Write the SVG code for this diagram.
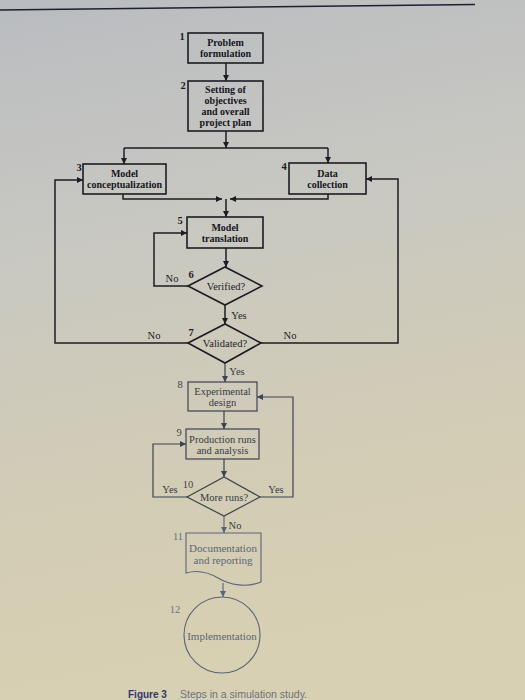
<svg xmlns="http://www.w3.org/2000/svg" width="525" height="700" viewBox="0 0 525 700">
<defs>
<linearGradient id="bg" x1="0" y1="0" x2="0.15" y2="1">
<stop offset="0" stop-color="#b9bcc0"/>
<stop offset="0.35" stop-color="#c8c8c2"/>
<stop offset="0.7" stop-color="#d2ccb6"/>
<stop offset="1" stop-color="#d8d0b2"/>
</linearGradient>
<marker id="ah" markerUnits="userSpaceOnUse" markerWidth="7" markerHeight="6" refX="6" refY="3" orient="auto">
<path d="M0,0 L6,3 L0,6 z" fill="#1c1c24"/>
</marker>
<marker id="ahl" markerUnits="userSpaceOnUse" markerWidth="7" markerHeight="6" refX="6" refY="3" orient="auto">
<path d="M0,0 L6,3 L0,6 z" fill="#3c4250"/>
</marker>
<marker id="ahf" markerUnits="userSpaceOnUse" markerWidth="7" markerHeight="6" refX="6" refY="3" orient="auto">
<path d="M0,0 L6,3 L0,6 z" fill="#5a6476"/>
</marker>
</defs>
<style>
.box{fill:none;stroke:#1c1c24;stroke-width:1.6}
.boxl{fill:none;stroke:#3c4250;stroke-width:1.2}
.boxf{fill:none;stroke:#5a6476;stroke-width:1.1}
.t{font-family:"Liberation Serif",serif;font-size:10px;font-weight:bold;fill:#15151c;text-anchor:middle}
.tr{font-family:"Liberation Serif",serif;font-size:10.5px;fill:#1c1c24;text-anchor:middle}
.tl{font-family:"Liberation Serif",serif;font-size:10.5px;fill:#343a46;text-anchor:middle}
.tf{font-family:"Liberation Serif",serif;font-size:11px;fill:#5c6678;text-anchor:middle}
.n{font-family:"Liberation Serif",serif;font-size:10.5px;font-weight:bold;fill:#1c1c24;text-anchor:middle}
.nl{font-family:"Liberation Serif",serif;font-size:10.5px;fill:#3c4250;text-anchor:middle}
.nf{font-family:"Liberation Serif",serif;font-size:10.5px;fill:#6a7284;text-anchor:middle}
.c{fill:none;stroke:#1c1c24;stroke-width:1.5;marker-end:url(#ah)}
.cl{fill:none;stroke:#3c4250;stroke-width:1.2;marker-end:url(#ahl)}
.cf{fill:none;stroke:#5a6476;stroke-width:1.1;marker-end:url(#ahf)}
</style>
<rect x="0" y="0" width="525" height="700" fill="url(#bg)"/>
<line x1="0" y1="10" x2="475" y2="4.5" stroke="#1e2030" stroke-width="1.6"/>

<g id="connectors">
<path class="c" d="M226,63 V81"/>
<path class="c" d="M226,131 V148"/>
<path fill="none" stroke="#1c1c24" stroke-width="1.5" d="M124,148 H328"/>
<path class="c" d="M124,148 V164"/>
<path class="c" d="M328,148 V163"/>
<path class="c" d="M123,194 V199 H222"/>
<path class="c" d="M328,194 V199 H230"/>
<path class="c" d="M226,199 V217"/>
<path class="c" d="M226,248 V267"/>
<path class="c" d="M188,286 H154 V233 H187"/>
<path class="c" d="M225,305 V324"/>
<path class="c" d="M188,343 H55 V180 H83"/>
<path class="c" d="M261,343 H398 V179 H366"/>
<path class="cl" d="M225,363 V382"/>
<path class="cl" d="M224,411 V429"/>
<path class="cl" d="M224,459 V477"/>
<path class="cl" d="M187,497 H153 V444 H186"/>
<path class="cl" d="M260,497 H293 V397 H257"/>
<path class="cf" d="M224,516 V533"/>
<path class="cf" d="M223,583 V597"/>
<text class="tr" x="172" y="282">No</text>
<text class="tr" x="239" y="319">Yes</text>
<text class="tr" x="154" y="339">No</text>
<text class="tr" x="290" y="339">No</text>
<text class="tl" x="237" y="375">Yes</text>
<text class="tl" x="170" y="493">Yes</text>
<text class="tl" x="276" y="493">Yes</text>
<text class="tl" x="235" y="529">No</text>
</g>

<g id="n1">
<rect class="box" x="188" y="33" width="75" height="30"/>
<text class="n" x="182" y="40">1</text>
<text class="t" x="225.5" y="46">Problem</text>
<text class="t" x="225.5" y="57">formulation</text>
</g>
<g id="n2">
<rect class="box" x="188" y="81" width="75" height="50"/>
<text class="n" x="183" y="89">2</text>
<text class="t" x="225.5" y="92.5">Setting of</text>
<text class="t" x="225.5" y="103.5">objectives</text>
<text class="t" x="225.5" y="114.5">and overall</text>
<text class="t" x="225.5" y="125.5">project plan</text>
</g>
<g id="n3">
<rect class="box" x="83" y="164" width="83" height="30"/>
<text class="n" x="79" y="171">3</text>
<text class="t" x="124.5" y="176.5">Model</text>
<text class="t" x="124.5" y="187.5">conceptualization</text>
</g>
<g id="n4">
<rect class="box" x="289" y="163" width="77" height="31"/>
<text class="n" x="284" y="170">4</text>
<text class="t" x="327.5" y="176.5">Data</text>
<text class="t" x="327.5" y="187.5">collection</text>
</g>
<g id="n5">
<rect class="box" x="187" y="217" width="76" height="31"/>
<text class="n" x="180" y="224">5</text>
<text class="t" x="225" y="230.5">Model</text>
<text class="t" x="225" y="241.5">translation</text>
</g>
<g id="n6">
<polygon class="box" points="188,286 225,267 262,286 225,305"/>
<text class="n" x="191" y="278">6</text>
<text class="tr" x="226" y="289.5">Verified?</text>
</g>
<g id="n7">
<polygon class="box" points="188,343 225,324 261,343 225,363"/>
<text class="n" x="191" y="336">7</text>
<text class="tr" x="225" y="346.5">Validated?</text>
</g>
<g id="n8">
<rect class="boxl" x="188" y="382" width="69" height="29"/>
<text class="nl" x="180" y="388">8</text>
<text class="tl" x="222.5" y="394.5">Experimental</text>
<text class="tl" x="222.5" y="405.5">design</text>
</g>
<g id="n9">
<rect class="boxl" x="186" y="429" width="73" height="30"/>
<text class="nl" x="179" y="436">9</text>
<text class="tl" x="222.5" y="442.5">Production runs</text>
<text class="tl" x="222.5" y="454">and analysis</text>
</g>
<g id="n10">
<polygon class="boxl" points="187,497 224,477 260,497 224,516"/>
<text class="nl" x="188" y="488">10</text>
<text class="tl" x="224" y="500.5">More runs?</text>
</g>
<g id="n11">
<path class="boxf" d="M186,533 H261 V582 C246,588 230,585 218,578 C206,571 196,570 186,573 Z"/>
<text class="nf" x="178" y="540">11</text>
<text class="tf" x="223" y="551.5">Documentation</text>
<text class="tf" x="223" y="564">and reporting</text>
</g>
<g id="n12">
<circle class="boxf" cx="222" cy="635" r="38"/>
<text class="nf" x="175" y="613">12</text>
<text class="tf" x="222" y="640">Implementation</text>
</g>
<g id="caption">
<text x="128" y="698" font-family="Liberation Sans, sans-serif" font-size="10" font-weight="bold" fill="#2e3a64">Figure 3</text>
<text x="180" y="698" font-family="Liberation Sans, sans-serif" font-size="10.5" fill="#6c7282">Steps in a simulation study.</text>
</g>
</svg>
